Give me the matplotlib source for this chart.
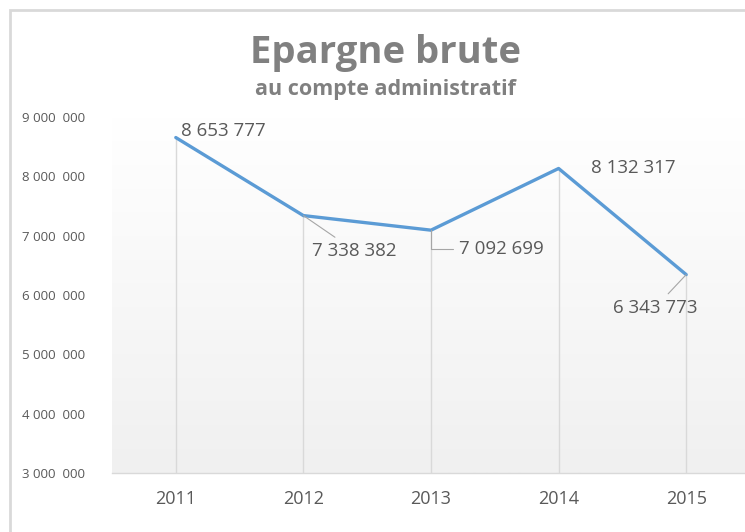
import matplotlib.pyplot as plt
from matplotlib.patches import Rectangle
from matplotlib.colors import LinearSegmentedColormap
from matplotlib.ticker import FuncFormatter
import numpy as np

plt.rcParams['font.family'] = ['Open Sans', 'DejaVu Sans']

# data
years = ['2011', '2012', '2013', '2014', '2015']
epargne = [8653777, 7338382, 7092699, 8132317, 6343773]
y_ticks = [3000000, 4000000, 5000000, 6000000, 7000000, 8000000, 9000000]

# label offsets in pixels (text position relative to the point)
label_offsets = [(5, 7), (51, -35), (28, -19), (75, 0), (-31, -33)]
label_ha = ['left', 'center', 'left', 'center', 'center']
leader = [None, 'arc3', 'angle,angleA=0,angleB=90', None, 'arc3']


def fmt_fr(v):
    return f"{int(v):,}".replace(',', ' ')


def fmt_tick(v, pos):
    s = fmt_fr(v)
    head, tail = s.rsplit(' ', 1)
    return head + '  ' + tail


fig = plt.figure(figsize=(7.45, 5.32), dpi=100)
fig.patch.set_facecolor('white')

# outer frame of the chart
frame = Rectangle((10 / 745, -0.05), 1.0, 1 - 10 / 532 + 0.05,
                  transform=fig.transFigure, fill=False,
                  edgecolor='#d9d9d9', lw=2)
fig.patches.append(frame)

ax = fig.add_axes([112 / 745, 1 - 473 / 532, 638 / 745, (473 - 117) / 532])
x = np.arange(len(years))
ax.set_xlim(-0.5, len(years) - 0.5)
ax.set_ylim(3000000, 9000000)

# gradient background
grad = np.linspace(0, 1, 256).reshape(-1, 1)
bg_cmap = LinearSegmentedColormap.from_list('bg', ['#f0f0f0', '#ffffff'])
ax.imshow(grad, extent=[0, 1, 0, 1], transform=ax.transAxes, aspect='auto',
          cmap=bg_cmap, origin='lower', zorder=0)

# drop lines
ax.vlines(x, 3000000, epargne, colors='#d9d9d9', lw=1, zorder=1)

ax.plot(x, epargne, color='#5b9bd5', lw=2.4, solid_capstyle='round',
        solid_joinstyle='round', zorder=3)

for i, v in enumerate(epargne):
    arrow = None
    if leader[i]:
        arrow = dict(arrowstyle='-', color='#a6a6a6', lw=0.8,
                     connectionstyle=leader[i], shrinkA=2, shrinkB=0)
    ax.annotate(fmt_fr(v), (x[i], v), xytext=label_offsets[i],
                textcoords='offset pixels', ha=label_ha[i], va='center',
                fontsize=13.5, color='#595959', arrowprops=arrow, zorder=4)

for s in ['top', 'left', 'right']:
    ax.spines[s].set_visible(False)
ax.spines['bottom'].set_color('#d9d9d9')
ax.spines['bottom'].set_linewidth(1)

ax.set_xticks(x)
ax.set_xticklabels(years, fontsize=13, color='#595959')
ax.tick_params(axis='x', length=0, pad=12)
ax.set_yticks(y_ticks)
ax.yaxis.set_major_formatter(FuncFormatter(fmt_tick))
ax.tick_params(axis='y', length=0, pad=19.5, labelsize=9.5, labelcolor='#595959')

fig.text(385 / 745, 1 - 53 / 532, 'Epargne brute', ha='center', va='center',
         fontsize=27.5, fontweight='bold', color='#808080')
fig.text(385 / 745, 1 - 90 / 532, 'au compte administratif', ha='center',
         va='center', fontsize=15.5, fontweight='bold', color='#808080')

fig.savefig('out.png', dpi=100)
